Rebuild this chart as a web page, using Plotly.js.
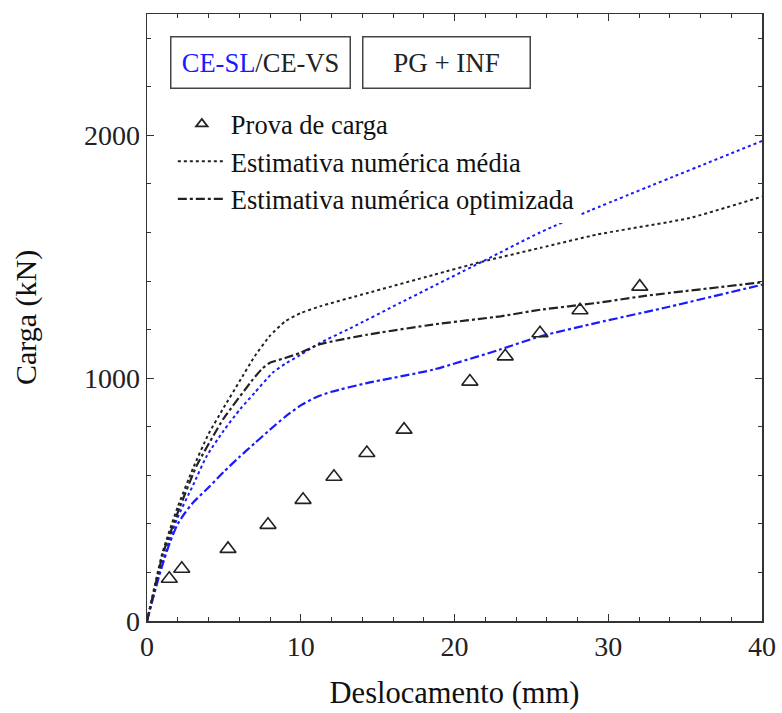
<!DOCTYPE html>
<html>
<head>
<meta charset="utf-8">
<script src="https://cdn.plot.ly/plotly-3.0.1.min.js"></script>
<style>body{margin:0;padding:0;background:#fff;} #chart{width:782px;height:713px;}</style>
</head>
<body>
<div id="chart"></div>
<script>
// Load test (Prova de carga)
const provaX = [1.45, 2.26, 5.27, 7.87, 10.15, 12.16, 14.3, 16.72, 21.0, 23.3, 25.56, 28.16, 32.05];
const provaY = [174, 215, 297, 396, 499, 594, 692, 788, 986, 1090, 1185, 1280, 1377];

// CE-VS mean numerical estimate (black dotted)
const vsMediaX = [0, 1, 2, 3, 4, 5, 6, 7, 8, 9, 10, 11.25, 14.3, 18.6, 21.8, 25.6, 29.3, 35.3, 40];
const vsMediaY = [0, 280, 470, 630, 770, 880, 985, 1090, 1175, 1235, 1268, 1296, 1350, 1425, 1480, 1537, 1592, 1660, 1748];

// CE-VS optimised numerical estimate (black dash-dot)
const vsOptX = [0, 1.06, 2.15, 3.23, 4.96, 6.9, 7.5, 8, 9.08, 9.95, 11.25, 14.3, 18.6, 23, 25.6, 29.25, 32.5, 40];
const vsOptY = [0, 282, 472, 640, 832, 996, 1040, 1064, 1085, 1104, 1140, 1179, 1221, 1255, 1282, 1310, 1340, 1395];

// CE-SL mean numerical estimate (blue dotted)
const slMediaX = [0, 1, 1.93, 3, 3.88, 5, 6.05, 7, 8.2, 9, 9.95, 11.25, 13.2, 16.46, 21.8, 25.56, 28.8, 40];
const slMediaY = [0, 240, 417, 560, 679, 785, 872, 940, 1024, 1060, 1095, 1145, 1205, 1310, 1480, 1600, 1690, 1977];

// CE-SL optimised numerical estimate (blue dash-dot)
const slOptX = [0, 0.5, 1, 1.5, 2, 2.5, 3, 4, 5, 6, 7, 8, 9, 10, 11, 12, 14.3, 18.6, 22.96, 25.56, 29.25, 33.6, 40];
const slOptY = [0, 120, 230, 325, 400, 448, 488, 550, 615, 675, 732, 788, 842, 888, 922, 944, 980, 1035, 1118, 1172, 1228, 1289, 1385];

const legendNames = ["Prova de carga", "Estimativa numérica média", "Estimativa numérica optimizada"];
const xTicks = [0, 10, 20, 30, 40];
const yTicks = [0, 1000, 2000];

const BLACK = "#222222";
const BLUE = "#1a1aff";
const FONT = "'Liberation Serif', 'Times New Roman', serif";

const traces = [
  {x: slMediaX, y: slMediaY, mode: "lines", line: {color: BLUE, dash: "dot", width: 2, shape: "spline", smoothing: 0.6}, showlegend: false},
  {x: vsMediaX, y: vsMediaY, mode: "lines", line: {color: BLACK, dash: "dot", width: 2, shape: "spline", smoothing: 0.5}, showlegend: false},
  {x: slOptX, y: slOptY, mode: "lines", line: {color: BLUE, dash: "dashdot", width: 2.2, shape: "spline", smoothing: 0.6}, showlegend: false},
  {x: vsOptX, y: vsOptY, mode: "lines", line: {color: BLACK, dash: "dashdot", width: 2.2, shape: "spline", smoothing: 0.4}, showlegend: false},
  {x: provaX, y: provaY, mode: "markers", marker: {symbol: "triangle-up-open", size: 14, color: BLACK, line: {width: 1.6, color: BLACK}}, showlegend: false},
  // legend entries
  {x: [null], y: [null], mode: "markers", name: legendNames[0], marker: {symbol: "triangle-up-open", size: 10, color: BLACK, line: {width: 1.8, color: BLACK}}},
  {x: [null], y: [null], mode: "lines", name: legendNames[1], line: {color: BLACK, dash: "dot", width: 2}},
  {x: [null], y: [null], mode: "lines", name: legendNames[2], line: {color: BLACK, dash: "dashdot", width: 2.2}}
];

const layout = {
  width: 782, height: 713,
  margin: {l: 147, r: 20, t: 14, b: 92},
  paper_bgcolor: "#ffffff", plot_bgcolor: "#ffffff",
  font: {family: FONT, size: 26, color: "#222"},
  showlegend: true,
  legend: {x: 0.042, y: 0.858, xanchor: "left", yanchor: "top", bgcolor: "rgba(255,255,255,1)", borderwidth: 0,
           itemwidth: 48, font: {family: FONT, size: 26.5, color: "#111"}, tracegroupgap: 0},
  xaxis: {
    range: [0, 40], tickmode: "array", tickvals: xTicks, ticktext: xTicks.map(String),
    ticks: "inside", ticklen: 7, tickwidth: 1.2, tickcolor: "#333",
    minor: {dtick: 2, ticks: "inside", ticklen: 4, tickcolor: "#333", tickwidth: 1},
    showline: true, linecolor: "#333", linewidth: 1.5, mirror: "allticks",
    showgrid: false, zeroline: false,
    tickfont: {family: FONT, size: 28, color: "#222"},
    title: {text: "Deslocamento (mm)", font: {family: FONT, size: 30.5, color: "#111"}, standoff: 20}
  },
  yaxis: {
    range: [0, 2500], tickmode: "array", tickvals: yTicks, ticktext: yTicks.map(String),
    ticks: "inside", ticklen: 7, tickwidth: 1.2, tickcolor: "#333",
    minor: {dtick: 200, ticks: "inside", ticklen: 4, tickcolor: "#333", tickwidth: 1},
    showline: true, linecolor: "#333", linewidth: 1.5, mirror: "allticks",
    showgrid: false, zeroline: false,
    tickfont: {family: FONT, size: 28, color: "#222"},
    title: {text: "Carga (kN)", font: {family: FONT, size: 30, color: "#111"}, standoff: 38}
  },
  annotations: [
    {xref: "paper", yref: "paper", x: (260 - 147) / 615, y: (621 - 63) / 607, xanchor: "center", yanchor: "middle",
     text: '<span style="color:' + BLUE + '">CE-SL</span>/CE-VS', showarrow: false,
     font: {family: FONT, size: 26.5, color: "#222"}, bordercolor: "#444", borderwidth: 1.5, borderpad: 2,
     width: 174, height: 46, bgcolor: "#fff"},
    {xref: "paper", yref: "paper", x: (446 - 147) / 615, y: (621 - 63) / 607, xanchor: "center", yanchor: "middle",
     text: "PG + INF", showarrow: false,
     font: {family: FONT, size: 27, color: "#222"}, bordercolor: "#444", borderwidth: 1.5, borderpad: 2,
     width: 162, height: 46, bgcolor: "#fff"}
  ]
};

Plotly.newPlot("chart", traces, layout, {displayModeBar: false, staticPlot: true});
</script>
</body>
</html>
